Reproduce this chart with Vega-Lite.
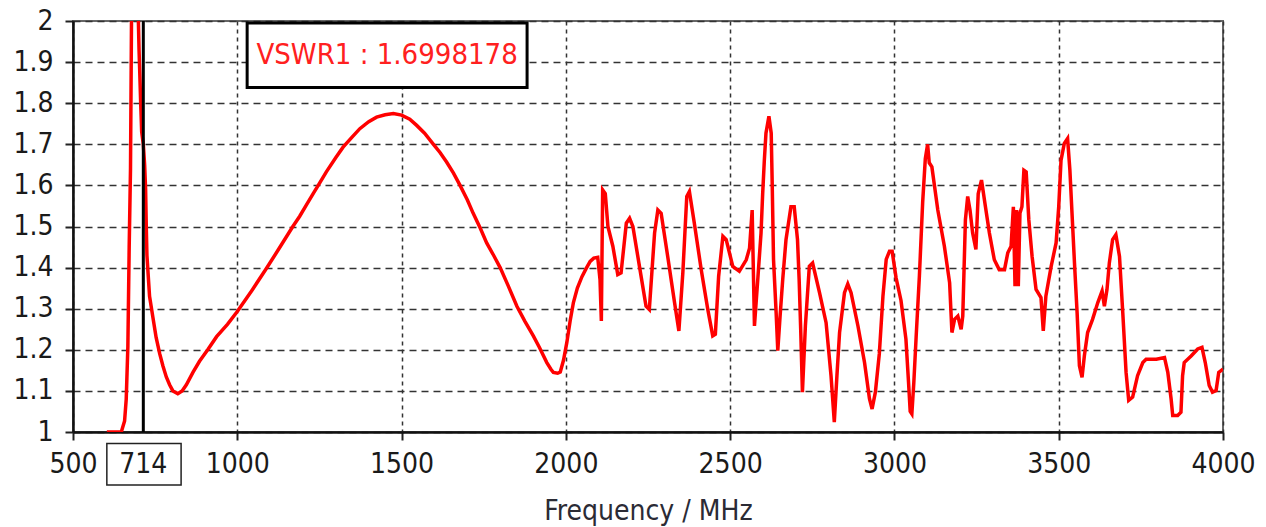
{
  "$schema": "https://vega.github.io/schema/vega-lite/v6.json",
  "width": 1150,
  "height": 411,
  "autosize": {"type": "none"},
  "padding": {"left": 73, "top": 21, "right": 43, "bottom": 95},
  "background": "white",
  "config": {
    "view": {"stroke": "#666666", "strokeWidth": 2},
    "font": "DejaVu Sans Condensed, DejaVu Sans",
    "axis": {
      "labelFont": "DejaVu Sans Condensed, DejaVu Sans",
      "titleFont": "DejaVu Sans Condensed, DejaVu Sans",
      "labelFontSize": 28,
      "labelColor": "#1a1a1a",
      "tickSize": 8,
      "tickWidth": 2,
      "tickColor": "#222222",
      "domainColor": "#111111",
      "domainWidth": 2.5,
      "gridColor": "#333333",
      "gridOpacity": 1,
      "gridWidth": 1.5
    }
  },
  "datasets": {
    "curve": [
      {"f":603,"v":1.0},{"f":625,"v":1.0},{"f":647,"v":1.0},{"f":657,"v":1.027},{"f":662,"v":1.08},{"f":667,"v":1.208},{"f":671,"v":1.45},{"f":675,"v":1.64},{"f":678,"v":2.0},{"f":683,"v":2.4},{"f":690,"v":2.6},{"f":696,"v":2.3},{"f":699,"v":2.0},{"f":701,"v":1.93},{"f":703,"v":1.88},{"f":706,"v":1.8},{"f":709,"v":1.73},{"f":714,"v":1.70},{"f":718,"v":1.65},{"f":721,"v":1.59},{"f":723,"v":1.5},{"f":725,"v":1.43},{"f":729,"v":1.38},{"f":733,"v":1.33},{"f":743,"v":1.28},{"f":753,"v":1.23},{"f":764,"v":1.19},{"f":774,"v":1.16},{"f":784,"v":1.134},{"f":794,"v":1.115},{"f":804,"v":1.1},{"f":819,"v":1.093},{"f":832,"v":1.1},{"f":845,"v":1.115},{"f":865,"v":1.145},{"f":885,"v":1.172},{"f":910,"v":1.2},{"f":937,"v":1.232},{"f":970,"v":1.262},{"f":1000,"v":1.293},{"f":1045,"v":1.345},{"f":1088,"v":1.397},{"f":1130,"v":1.45},{"f":1169,"v":1.5},{"f":1190,"v":1.525},{"f":1210,"v":1.552},{"f":1231,"v":1.58},{"f":1250,"v":1.605},{"f":1271,"v":1.633},{"f":1300,"v":1.668},{"f":1322,"v":1.693},{"f":1350,"v":1.718},{"f":1373,"v":1.738},{"f":1400,"v":1.755},{"f":1424,"v":1.766},{"f":1450,"v":1.772},{"f":1475,"v":1.775},{"f":1500,"v":1.771},{"f":1525,"v":1.761},{"f":1546,"v":1.746},{"f":1570,"v":1.727},{"f":1597,"v":1.7},{"f":1617,"v":1.68},{"f":1637,"v":1.657},{"f":1658,"v":1.63},{"f":1678,"v":1.6},{"f":1700,"v":1.565},{"f":1718,"v":1.532},{"f":1740,"v":1.495},{"f":1759,"v":1.46},{"f":1780,"v":1.43},{"f":1800,"v":1.4},{"f":1825,"v":1.355},{"f":1851,"v":1.306},{"f":1875,"v":1.27},{"f":1901,"v":1.234},{"f":1920,"v":1.205},{"f":1942,"v":1.169},{"f":1955,"v":1.152},{"f":1962,"v":1.145},{"f":1975,"v":1.143},{"f":1983,"v":1.146},{"f":1993,"v":1.175},{"f":2003,"v":1.218},{"f":2013,"v":1.27},{"f":2023,"v":1.315},{"f":2035,"v":1.35},{"f":2049,"v":1.378},{"f":2062,"v":1.398},{"f":2074,"v":1.415},{"f":2085,"v":1.423},{"f":2097,"v":1.425},{"f":2104,"v":1.37},{"f":2108,"v":1.27},{"f":2112,"v":1.589},{"f":2120,"v":1.58},{"f":2128,"v":1.5},{"f":2143,"v":1.452},{"f":2158,"v":1.383},{"f":2168,"v":1.387},{"f":2184,"v":1.508},{"f":2194,"v":1.52},{"f":2204,"v":1.5},{"f":2224,"v":1.403},{"f":2244,"v":1.306},{"f":2254,"v":1.298},{"f":2270,"v":1.484},{"f":2280,"v":1.54},{"f":2290,"v":1.532},{"f":2310,"v":1.427},{"f":2331,"v":1.314},{"f":2344,"v":1.246},{"f":2356,"v":1.387},{"f":2368,"v":1.573},{"f":2376,"v":1.585},{"f":2391,"v":1.508},{"f":2412,"v":1.395},{"f":2432,"v":1.298},{"f":2447,"v":1.234},{"f":2455,"v":1.238},{"f":2465,"v":1.379},{"f":2478,"v":1.476},{"f":2488,"v":1.468},{"f":2508,"v":1.403},{"f":2528,"v":1.391},{"f":2549,"v":1.419},{"f":2559,"v":1.447},{"f":2567,"v":1.54},{"f":2574,"v":1.258},{"f":2584,"v":1.37},{"f":2594,"v":1.484},{"f":2599,"v":1.58},{"f":2604,"v":1.66},{"f":2609,"v":1.727},{"f":2618,"v":1.768},{"f":2625,"v":1.727},{"f":2628,"v":1.605},{"f":2632,"v":1.42},{"f":2640,"v":1.29},{"f":2645,"v":1.198},{"f":2652,"v":1.282},{"f":2660,"v":1.371},{"f":2670,"v":1.468},{"f":2685,"v":1.548},{"f":2695,"v":1.548},{"f":2705,"v":1.468},{"f":2710,"v":1.371},{"f":2715,"v":1.242},{"f":2720,"v":1.097},{"f":2729,"v":1.258},{"f":2741,"v":1.403},{"f":2751,"v":1.411},{"f":2772,"v":1.339},{"f":2792,"v":1.266},{"f":2807,"v":1.137},{"f":2817,"v":1.024},{"f":2825,"v":1.137},{"f":2833,"v":1.242},{"f":2848,"v":1.339},{"f":2858,"v":1.36},{"f":2868,"v":1.339},{"f":2889,"v":1.258},{"f":2909,"v":1.169},{"f":2924,"v":1.081},{"f":2932,"v":1.056},{"f":2942,"v":1.097},{"f":2954,"v":1.19},{"f":2965,"v":1.33},{"f":2975,"v":1.42},{"f":2985,"v":1.44},{"f":2993,"v":1.44},{"f":3005,"v":1.375},{"f":3020,"v":1.32},{"f":3035,"v":1.226},{"f":3043,"v":1.12},{"f":3048,"v":1.05},{"f":3053,"v":1.044},{"f":3059,"v":1.12},{"f":3066,"v":1.23},{"f":3076,"v":1.38},{"f":3086,"v":1.56},{"f":3094,"v":1.665},{"f":3101,"v":1.7},{"f":3106,"v":1.655},{"f":3114,"v":1.645},{"f":3132,"v":1.54},{"f":3152,"v":1.452},{"f":3168,"v":1.363},{"f":3175,"v":1.242},{"f":3183,"v":1.274},{"f":3193,"v":1.282},{"f":3203,"v":1.25},{"f":3208,"v":1.282},{"f":3216,"v":1.516},{"f":3223,"v":1.573},{"f":3230,"v":1.54},{"f":3238,"v":1.484},{"f":3248,"v":1.444},{"f":3255,"v":1.58},{"f":3265,"v":1.613},{"f":3277,"v":1.548},{"f":3289,"v":1.484},{"f":3304,"v":1.419},{"f":3319,"v":1.395},{"f":3335,"v":1.395},{"f":3345,"v":1.436},{"f":3355,"v":1.452},{"f":3362,"v":1.548},{"f":3367,"v":1.355},{"f":3372,"v":1.54},{"f":3377,"v":1.355},{"f":3382,"v":1.532},{"f":3388,"v":1.548},{"f":3394,"v":1.637},{"f":3401,"v":1.633},{"f":3409,"v":1.516},{"f":3419,"v":1.427},{"f":3431,"v":1.347},{"f":3446,"v":1.327},{"f":3453,"v":1.246},{"f":3461,"v":1.331},{"f":3477,"v":1.403},{"f":3492,"v":1.46},{"f":3500,"v":1.548},{"f":3507,"v":1.661},{"f":3517,"v":1.702},{"f":3527,"v":1.714},{"f":3534,"v":1.637},{"f":3540,"v":1.54},{"f":3548,"v":1.411},{"f":3556,"v":1.29},{"f":3563,"v":1.161},{"f":3571,"v":1.133},{"f":3578,"v":1.185},{"f":3588,"v":1.242},{"f":3603,"v":1.274},{"f":3619,"v":1.315},{"f":3632,"v":1.343},{"f":3639,"v":1.306},{"f":3647,"v":1.347},{"f":3654,"v":1.411},{"f":3664,"v":1.468},{"f":3674,"v":1.48},{"f":3685,"v":1.427},{"f":3695,"v":1.29},{"f":3705,"v":1.145},{"f":3713,"v":1.077},{"f":3725,"v":1.085},{"f":3740,"v":1.137},{"f":3756,"v":1.169},{"f":3766,"v":1.177},{"f":3797,"v":1.177},{"f":3822,"v":1.181},{"f":3832,"v":1.145},{"f":3842,"v":1.081},{"f":3847,"v":1.04},{"f":3862,"v":1.04},{"f":3872,"v":1.048},{"f":3877,"v":1.137},{"f":3882,"v":1.169},{"f":3903,"v":1.185},{"f":3923,"v":1.202},{"f":3936,"v":1.206},{"f":3946,"v":1.169},{"f":3958,"v":1.113},{"f":3968,"v":1.097},{"f":3979,"v":1.101},{"f":3987,"v":1.145},{"f":4000,"v":1.153}
    ],
    "marker": [{"f": 714}],
    "annotBox": [{"x1": 1030, "x2": 1882, "y1": 1.838, "y2": 1.995}],
    "annotText": [{"x": 1456, "y": 1.917, "label": "VSWR1 : 1.6998178"}],
    "markerBox": [{"x1": 603, "x2": 829, "y1": 0.871, "y2": 0.972}],
    "markerText": [{"x": 714, "y": 0.919, "label": "714"}]
  },
  "layer": [
    {
      "data": {"name": "curve"},
      "mark": {"type": "line", "color": "#ff0000", "strokeWidth": 3.5, "clip": true, "interpolate": "linear"},
      "encoding": {
        "x": {
          "field": "f", "type": "quantitative",
          "scale": {"domain": [500, 4000], "nice": false, "zero": false},
          "axis": {
            "values": [500, 1000, 1500, 2000, 2500, 3000, 3500, 4000],
            "labelExpr": "format(datum.value, 'd')",
            "title": "Frequency / MHz",
            "titleFontSize": 28,
            "titleFontWeight": "normal",
            "titleColor": "#2b2b35",
            "titlePadding": 19,
            "labelPadding": 10,
            "labelFlush": false,
            "labelOverlap": false,
            "grid": true,
            "gridDash": [4, 4]
          }
        },
        "y": {
          "field": "v", "type": "quantitative",
          "scale": {"domain": [1, 2], "nice": false, "zero": false},
          "axis": {
            "values": [1, 1.1, 1.2, 1.3, 1.4, 1.5, 1.6, 1.7, 1.8, 1.9, 2],
            "labelExpr": "format(datum.value, '~g')",
            "title": null,
            "labelPadding": 12,
            "labelFlush": false,
            "labelOverlap": false,
            "grid": true,
            "gridDash": [7, 5]
          }
        }
      }
    },
    {
      "data": {"name": "marker"},
      "mark": {"type": "rule", "color": "#000000", "strokeWidth": 3},
      "encoding": {"x": {"field": "f", "type": "quantitative"}}
    },
    {
      "data": {"name": "annotBox"},
      "mark": {"type": "rect", "fill": "white", "stroke": "#000000", "strokeWidth": 3},
      "encoding": {
        "x": {"field": "x1", "type": "quantitative"},
        "x2": {"field": "x2"},
        "y": {"field": "y1", "type": "quantitative"},
        "y2": {"field": "y2"}
      }
    },
    {
      "data": {"name": "annotText"},
      "mark": {"type": "text", "color": "#ff2020", "fontSize": 29, "font": "DejaVu Sans Condensed, DejaVu Sans", "align": "center", "baseline": "middle"},
      "encoding": {
        "x": {"field": "x", "type": "quantitative"},
        "y": {"field": "y", "type": "quantitative"},
        "text": {"field": "label"}
      }
    },
    {
      "data": {"name": "markerBox"},
      "mark": {"type": "rect", "fill": "white", "stroke": "#222222", "strokeWidth": 1.5, "clip": false},
      "encoding": {
        "x": {"field": "x1", "type": "quantitative"},
        "x2": {"field": "x2"},
        "y": {"field": "y1", "type": "quantitative"},
        "y2": {"field": "y2"}
      }
    },
    {
      "data": {"name": "markerText"},
      "mark": {"type": "text", "color": "#1a1a1a", "fontSize": 28, "font": "DejaVu Sans Condensed, DejaVu Sans", "align": "center", "baseline": "middle", "clip": false},
      "encoding": {
        "x": {"field": "x", "type": "quantitative"},
        "y": {"field": "y", "type": "quantitative"},
        "text": {"field": "label"}
      }
    }
  ]
}
